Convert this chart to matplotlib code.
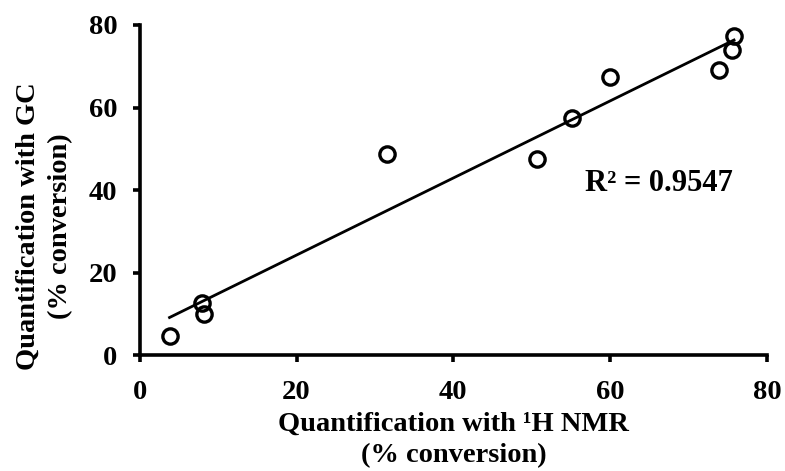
import numpy as np
import matplotlib
matplotlib.use("Agg")
import matplotlib.pyplot as plt

plt.rcParams['font.family'] = ['Liberation Serif', 'DejaVu Serif']
plt.rcParams['font.weight'] = 'bold'

nmr = [3.8, 7.9, 8.2, 31.5, 50.7, 55.1, 60.0, 73.9, 75.8, 75.6]
gc = [4.6, 12.7, 9.9, 48.7, 47.6, 57.5, 67.5, 69.1, 77.4, 73.9]
r2_text = "R² = 0.9547"
xticks = [0, 20, 40, 60, 80]
yticks = [0, 20, 40, 60, 80]

FS = 20.5
fig = plt.figure(figsize=(7.85, 4.71), dpi=100)
ax = fig.add_axes([0.178, 0.246, 0.799, 0.701])

x = np.array(nmr)
y = np.array(gc)
m, b = np.polyfit(x, y, 1)
xl = np.array([x.min(), x.max()])
ax.plot(xl, m * xl + b, color='black', lw=2.0, zorder=2)
ax.plot(x, y, 'o', mfc='none', mec='black', ms=11, mew=2.4, zorder=3)

ax.set_xlim(0, 80)
ax.set_ylim(0, 80)
ax.set_xticks(xticks)
ax.set_yticks(yticks)
for s in ['top', 'right']:
    ax.spines[s].set_visible(False)
for s in ['left', 'bottom']:
    ax.spines[s].set_linewidth(2.6)
ax.tick_params(axis='both', direction='out', length=5, width=2.6,
               labelsize=FS)
ax.tick_params(axis='y', pad=11)
ax.tick_params(axis='x', pad=13)
for lab in ax.get_xticklabels() + ax.get_yticklabels():
    lab.set_fontweight('bold')

ax.set_xlabel("Quantification with ¹H NMR\n(% conversion)", fontsize=FS,
              fontweight='bold', linespacing=1.3)
ax.set_ylabel("Quantification with GC\n(% conversion)", fontsize=FS,
              fontweight='bold', linespacing=1.4)
ax.xaxis.set_label_coords(0.5, -0.172)
ax.yaxis.set_label_coords(-0.106, 0.392)
ax.text(66.2, 41.5, r2_text, fontsize=22, fontweight='bold',
        ha='center', va='center')

fig.savefig("out.png", dpi=100)
